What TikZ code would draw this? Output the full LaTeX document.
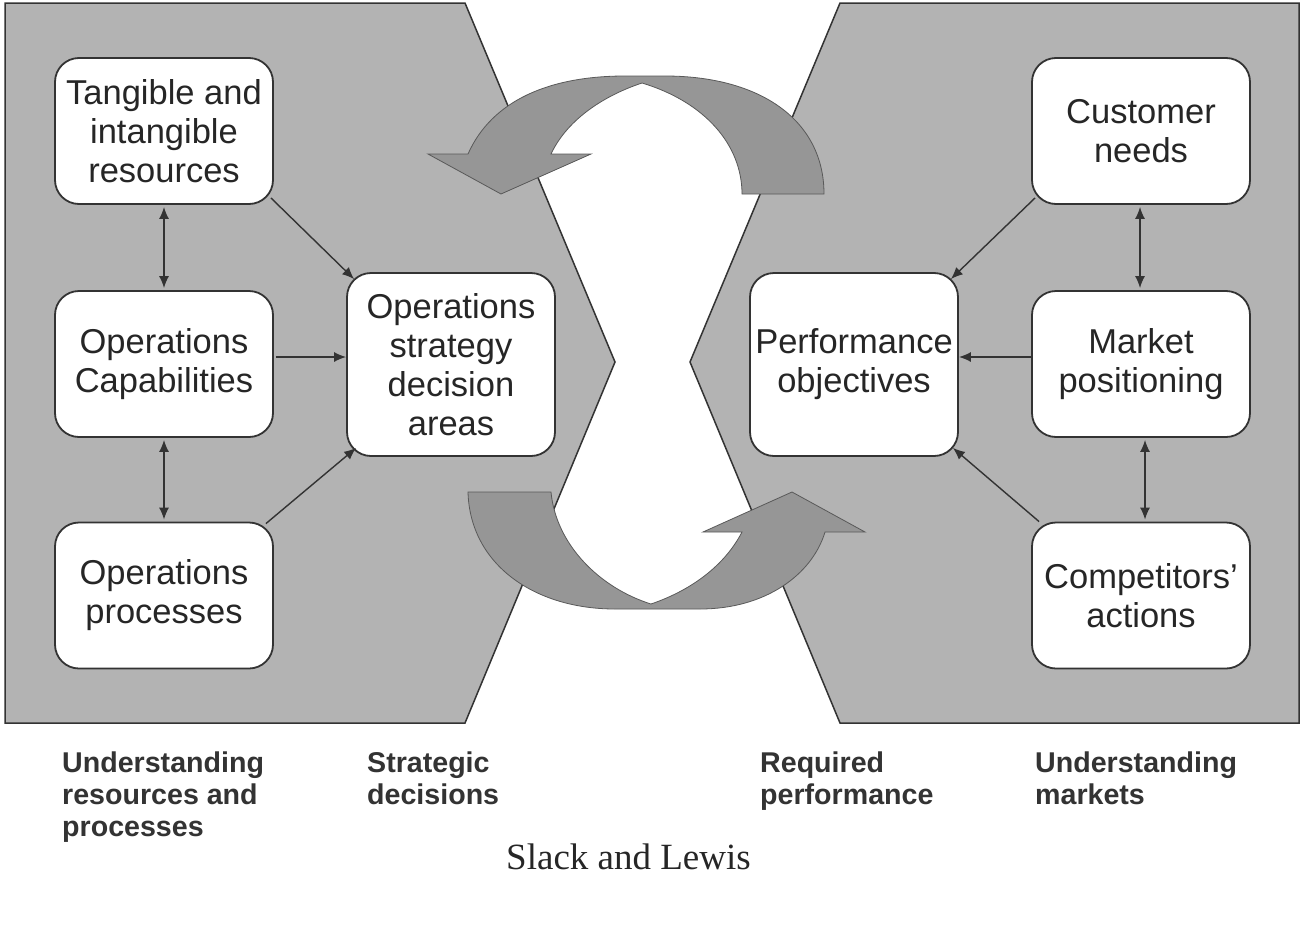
\documentclass[tikz,border=0pt]{standalone}
\usepackage{fontspec}
\setmainfont{Liberation Sans}
\newfontfamily\serifcap{Liberation Serif}
\usetikzlibrary{arrows.meta,calc}
\definecolor{panelgray}{HTML}{B3B3B3}
\definecolor{arrowgray}{HTML}{969696}
\definecolor{linegray}{HTML}{333333}
\tikzset{
  panel/.style={fill=panelgray,draw=linegray,line width=1.5pt,line join=miter},
  bigarrow/.style={fill=arrowgray,draw=black!65,line width=0.8pt},
  boxnode/.style={draw=linegray,fill=white,line width=1.8pt,rounded corners=24pt,
    align=center,text=black!85,inner sep=0pt,
    font=\fontsize{34.5}{39}\selectfont},
  widebox/.style={boxnode,minimum width=218pt,minimum height=146pt},
  tallbox/.style={boxnode,minimum width=208pt,minimum height=183pt},
  conn/.style={draw=linegray,line width=1.4pt,-{Latex[length=12pt,width=10pt]}},
  dconn/.style={draw=linegray,line width=1.4pt,{Latex[length=12pt,width=10pt]}-{Latex[length=12pt,width=10pt]},shorten <=2pt,shorten >=2pt},
  caption/.style={anchor=north west,align=left,inner sep=0pt,text=black!80,
    font=\fontsize{28.6}{32}\selectfont\bfseries}
}
\begin{document}
\begin{tikzpicture}[x=1pt,y=-1pt]
\useasboundingbox[fill=white] (0,0) rectangle (1304,929);
% panels
\path[panel] (5,3) -- (465,3) -- (615,362) -- (465,723) -- (5,723) -- cycle;
\path[panel] (840,3) -- (1299,3) -- (1299,723) -- (840,723) -- (690,362) -- cycle;
% top curved arrow
\path[bigarrow] (468,154) .. controls (492,100) and (550,76) .. (625,76)
  -- (665,76) .. controls (760,76) and (824,120) .. (824,194)
  -- (742,194) .. controls (742,145) and (705,102) .. (642,83)
  .. controls (600,97) and (566,122) .. (551,154)
  -- (591,154) -- (501,194) -- (428,154) -- cycle;
% bottom curved arrow
\path[bigarrow] (468,492) .. controls (470,565) and (535,609) .. (615,609)
  -- (700,609) .. controls (765,609) and (812,575) .. (825,532)
  -- (865,532) -- (792,492) -- (703,532) -- (742,532)
  .. controls (725,565) and (692,590) .. (651,604)
  .. controls (600,588) and (556,545) .. (551,492) -- cycle;
% boxes
\node[widebox] (tang) at (164,131) {Tangible and\\intangible\\resources};
\node[widebox] (cap) at (164,364) {Operations\\Capabilities};
\node[widebox] (proc) at (164,595.5) {Operations\\processes};
\node[tallbox] (osda) at (451,364.5) {Operations\\strategy\\decision\\areas};
\node[tallbox] (perf) at (854,364.5) {Performance\\objectives};
\node[widebox] (cust) at (1141,131) {Customer\\needs};
\node[widebox] (mkt) at (1141,364) {Market\\positioning};
\node[widebox] (comp) at (1141,595.5) {Competitors’\\actions};
% connectors left
\draw[conn] ($(tang.south east)+(-3,-7)$) -- ($(osda.north west)+(8,7)$);
\draw[conn] ($(cap.east)+(2,-7)$) -- ($(osda.west)+(0,-7.5)$);
\draw[conn] ($(proc.north east)+(-8,2)$) -- ($(osda.south west)+(10,-9)$);
\draw[dconn] (tang.south) -- (cap.north);
\draw[dconn] (cap.south) -- (proc.north);
% connectors right
\draw[conn] ($(cust.south west)+(4,-7)$) -- ($(perf.north east)+(-8,7)$);
\draw[conn] ($(mkt.west)+(0,-7)$) -- ($(perf.east)+(0,-7.5)$);
\draw[conn] ($(comp.north west)+(8,0)$) -- ($(perf.south east)+(-6,-9)$);
\draw[dconn] ($(cust.south)+(-1,0)$) -- ($(mkt.north)+(-1,0)$);
\draw[dconn] ($(mkt.south)+(4,0)$) -- ($(comp.north)+(4,0)$);
% captions
\node[caption] (c1) at (62,752) {Understanding\\resources and\\processes};
\node[caption] (c2) at (367,752) {Strategic\\decisions};
\node[caption] (c3) at (760,752) {Required\\performance};
\node[caption] (c4) at (1035,752) {Understanding\\markets};
\node[anchor=base,inner sep=0pt,text=black!85,font=\serifcap\fontsize{37}{40}\selectfont] (src) at (628.5,869) {Slack and Lewis};
\end{tikzpicture}
\end{document}
